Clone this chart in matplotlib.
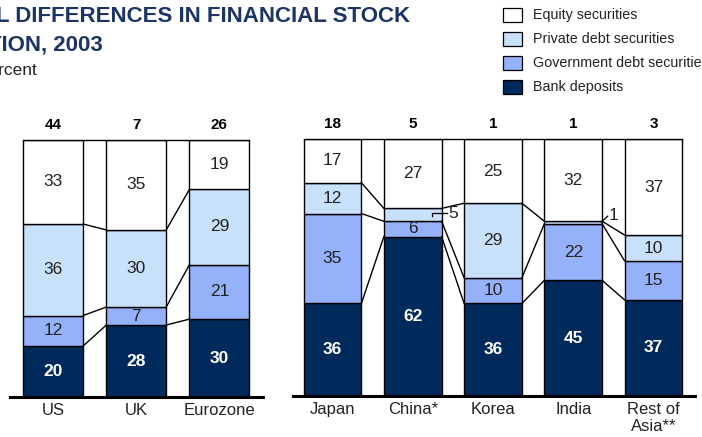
import numpy as np
import matplotlib
matplotlib.use('Agg')
import matplotlib.pyplot as plt
from matplotlib.patches import Rectangle

plt.rcParams['font.family'] = ['Liberation Sans', 'DejaVu Sans']

# data (percent of financial stock)
series = ['Bank deposits', 'Government debt securities', 'Private debt securities', 'Equity securities']
cols = ['#002a5c', '#94b1fa', '#c7e1fb', '#ffffff']

left_cats = ['US', 'UK', 'Eurozone']
left_tot = [44, 7, 26]
left_bank = [20, 28, 30]
left_gov = [12, 7, 21]
left_priv = [36, 30, 29]
left_eq = [33, 35, 19]

right_cats = ['Japan', 'China*', 'Korea', 'India', 'Rest of\nAsia**']
right_tot = [18, 5, 1, 1, 3]
right_bank = [36, 62, 36, 45, 37]
right_gov = [35, 6, 10, 22, 15]
right_priv = [12, 5, 29, 1, 10]
right_eq = [17, 27, 25, 32, 37]

W, H = 702, 437
fig = plt.figure(figsize=(W/100, H/100), dpi=100)
lab_fs = 12.5

def px_axes(x0, x1, ytop, ybot):
    return fig.add_axes([x0/W, 1-ybot/H, (x1-x0)/W, (ybot-ytop)/H])

def panel(ax, cats, tot, layers, small=None):
    n = len(cats)
    x = np.arange(n)
    w = 0.72
    vals = np.array(layers, dtype=float)
    vals = vals / vals.sum(axis=0) * 100
    bottom = np.zeros(n)
    cums = []
    for k in range(4):
        ax.bar(x, vals[k], w, bottom=bottom, color=cols[k], edgecolor='black', lw=1.0, zorder=2)
        for i in range(n):
            if small is not None and (k, i) in small:
                continue
            ym = bottom[i] + vals[k][i]/2
            if k == 0:
                ax.text(x[i], ym, str(layers[k][i]), ha='center', va='center', color='white',
                        fontsize=lab_fs, fontweight='bold', zorder=4)
            else:
                ax.text(x[i], ym, str(layers[k][i]), ha='center', va='center', color='#222222',
                        fontsize=lab_fs, zorder=4)
        bottom = bottom + vals[k]
        if k < 3:
            cums.append(bottom.copy())
    # connector lines between bars
    for c in cums:
        for i in range(n-1):
            ax.plot([x[i]+w/2, x[i+1]-w/2], [c[i], c[i+1]], color='black', lw=1.0, zorder=3)
    ax.plot([x[0]-w/2, x[-1]+w/2], [100, 100], color='black', lw=1.0, zorder=3, clip_on=False)
    ax.axhline(0, color='black', lw=2.2, zorder=5, clip_on=False)
    for i in range(n):
        ax.text(x[i], 106, str(tot[i]), ha='center', va='center', fontsize=11, fontweight='bold')
        ax.text(x[i], -2.3, cats[i], ha='center', va='top', fontsize=12, color='#222222',
                linespacing=1.15)
    ax.set_ylim(0, 100)
    ax.axis('off')
    return x

axl = px_axes(10, 263, 140, 397)
panel(axl, left_cats, left_tot, [left_bank, left_gov, left_priv, left_eq])
axl.set_xlim(-0.518, 2.524)

axr = px_axes(293, 695, 139, 396)
panel(axr, right_cats, right_tot, [right_bank, right_gov, right_priv, right_eq],
      small={(2, 1), (2, 3)})
axr.set_xlim(-0.492, 4.517)

# small labels with leaders
axr.plot([1.24, 1.24, 1.43], [70.0, 71.2, 71.2], color='black', lw=0.9, zorder=5)
axr.text(1.5, 71.0, str(right_priv[1]), ha='center', va='center', fontsize=lab_fs, color='#222222')
axr.plot([3.355, 3.43], [67.8, 70.0], color='black', lw=0.9, zorder=5, clip_on=False)
axr.text(3.5, 70.4, str(right_priv[3]), ha='center', va='center', fontsize=lab_fs, color='#222222')

# titles (cropped at left edge like the reference)
navy = '#1c3566'
fig.text(410/W, 1-22/H, 'REGIONAL DIFFERENCES IN FINANCIAL STOCK', ha='right', va='baseline',
         fontsize=16, fontweight='bold', color=navy)
fig.text(103/W, 1-50/H, 'COMPOSITION, 2003', ha='right', va='baseline',
         fontsize=16, fontweight='bold', color=navy)
fig.text(37/W, 1-75/H, 'Percent', ha='right', va='baseline', fontsize=12.5, color='#222222')

# legend
leg_y = [15, 39, 63, 87]
for k, yy in zip([3, 2, 1, 0], leg_y):
    fig.add_artist(Rectangle((503/W, 1-(yy+7)/H), 19/W, 14/H, transform=fig.transFigure,
                             facecolor=cols[k], edgecolor='black', lw=0.9))
    fig.text(533/W, 1-yy/H, series[k], ha='left', va='center', fontsize=10.3, color='#222222')

fig.savefig('out.png', dpi=100)
